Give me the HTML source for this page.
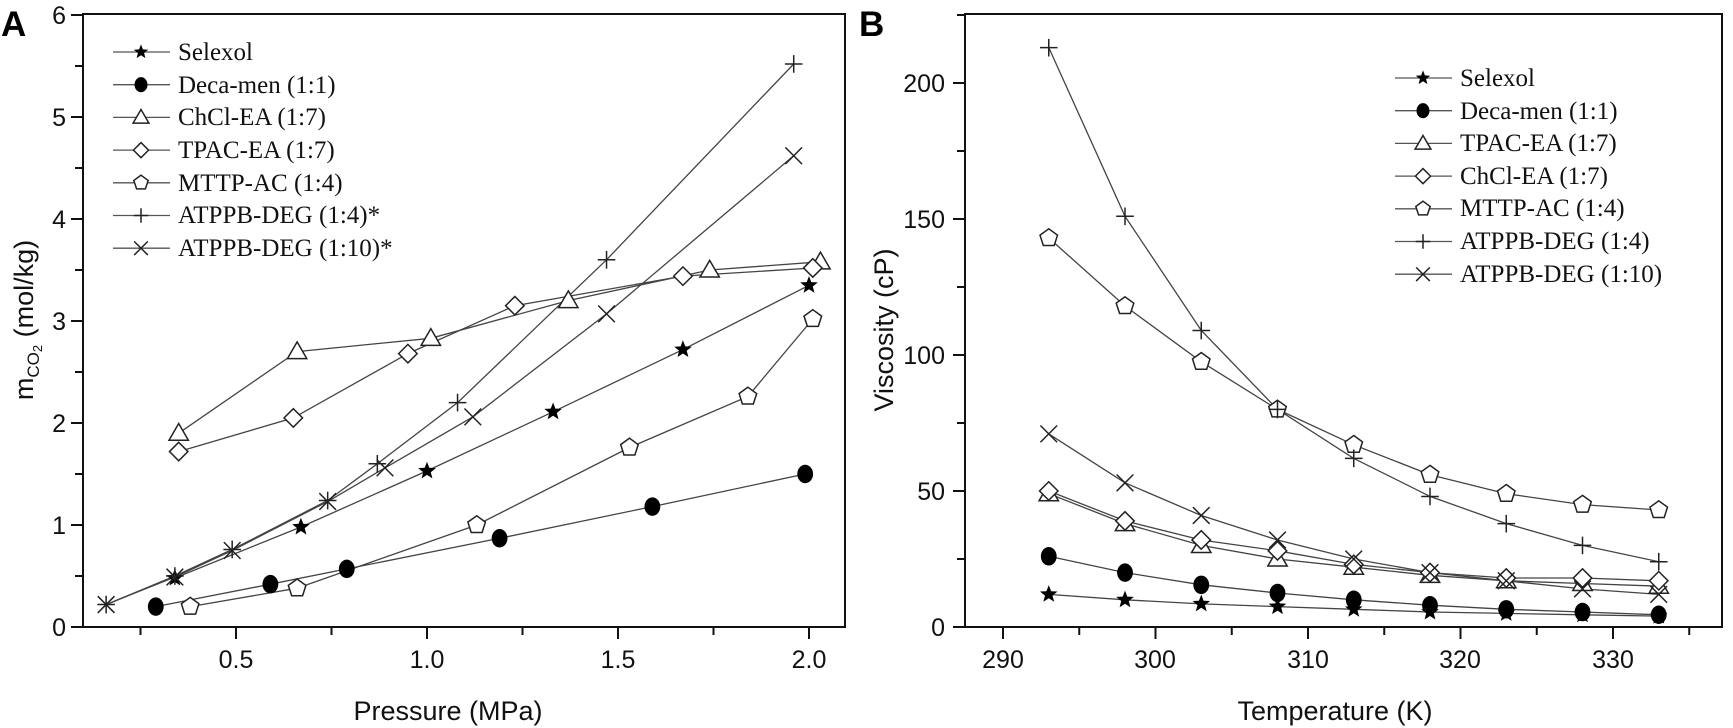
<!DOCTYPE html>
<html><head><meta charset="utf-8"><style>
body{margin:0;background:#fff;}
svg{display:block;}
.t{font-family:"Liberation Sans",Arial,sans-serif;font-size:25px;fill:#111;}
.lg{font-family:"Liberation Serif","Times New Roman",serif;font-size:25px;fill:#111;}
.ti{font-family:"Liberation Sans",Arial,sans-serif;font-size:27px;fill:#111;}
</style></head><body>
<svg id="s" width="1733" height="728" viewBox="0 0 1733 728" xmlns="http://www.w3.org/2000/svg">
<rect width="1733" height="728" fill="#fff"/>
<text x="1" y="36" style="font-family:'Liberation Sans',Arial,sans-serif;font-weight:bold;font-size:35px">A</text>
<text x="859" y="36" style="font-family:'Liberation Sans',Arial,sans-serif;font-weight:bold;font-size:35px">B</text>
<g id="axes" stroke="#111" stroke-width="2" fill="none">
<rect x="83" y="14" width="762" height="613"/>
<rect x="965" y="14" width="757" height="613"/>
</g>
<g id="ticks" stroke="#111" stroke-width="2"></g>
<g class="t" text-anchor="end">
<text x="66" y="636">0</text><text x="66" y="534">1</text><text x="66" y="432">2</text>
<text x="66" y="330">3</text><text x="66" y="228">4</text><text x="66" y="126">5</text><text x="66" y="24">6</text>
<text x="945" y="636">0</text><text x="945" y="500">50</text><text x="945" y="364">100</text>
<text x="945" y="228">150</text><text x="945" y="92">200</text>
</g>
<g class="t" text-anchor="middle">
<text x="236" y="668">0.5</text><text x="427" y="668">1.0</text><text x="618" y="668">1.5</text><text x="809" y="668">2.0</text>
<text x="1003" y="668">290</text><text x="1155" y="668">300</text><text x="1308" y="668">310</text><text x="1460" y="668">320</text><text x="1613" y="668">330</text>
</g>
<text class="ti" x="448" y="720" text-anchor="middle">Pressure (MPa)</text>
<text class="ti" x="1335" y="720" text-anchor="middle">Temperature (K)</text>
<text class="ti" transform="translate(33,320) rotate(-90)" text-anchor="middle">m<tspan font-size="17" dy="6">CO</tspan><tspan font-size="13" dy="3">2</tspan><tspan dy="-9"> (mol/kg)</tspan></text>
<text class="ti" transform="translate(893,330) rotate(-90)" text-anchor="middle">Viscosity (cP)</text>
<g id="data"></g>
<g class="lg">
<text x="178" y="60">Selexol</text><text x="178" y="93">Deca-men (1:1)</text><text x="178" y="125">ChCl-EA (1:7)</text>
<text x="178" y="158">TPAC-EA (1:7)</text><text x="178" y="191">MTTP-AC (1:4)</text><text x="178" y="223">ATPPB-DEG (1:4)*</text>
<text x="178" y="256">ATPPB-DEG (1:10)*</text>
<text x="1460" y="86">Selexol</text><text x="1460" y="119">Deca-men (1:1)</text><text x="1460" y="151">TPAC-EA (1:7)</text>
<text x="1460" y="184">ChCl-EA (1:7)</text><text x="1460" y="216">MTTP-AC (1:4)</text><text x="1460" y="249">ATPPB-DEG (1:4)</text>
<text x="1460" y="282">ATPPB-DEG (1:10)</text>
</g>
</svg>
<script>
var NS="http://www.w3.org/2000/svg";
function el(p,n,a){var e=document.createElementNS(NS,n);for(var k in a)e.setAttribute(k,a[k]);p.appendChild(e);return e;}
var T=document.getElementById('ticks'),D=document.getElementById('data');
for(var i=0;i<=12;i++){var y=627-i*51;el(T,'line',{x1:83,x2:i%2?75:71,y1:y,y2:y});}
for(var p=0.25;p<=2.1;p+=0.25){var x=236+(p-0.5)*382;el(T,'line',{x1:x,x2:x,y1:627,y2:Math.round(p*4)%2?635:639});}
for(var v=0;v<=225;v+=25){var y=627-v*2.72;el(T,'line',{x1:965,x2:v%50?957:953,y1:y,y2:y});}
for(var t=290;t<=335;t+=5){var x=1003+(t-290)*15.25;el(T,'line',{x1:x,x2:x,y1:627,y2:t%10?635:639});}
function marker(g,type,x,y,s){s=s||1.1;var r=8*s;
 if(type=='star'){var pts=[];for(var i=0;i<10;i++){var a=-Math.PI/2+i*Math.PI/5,rr=i%2?r*0.45:r*1.05;pts.push((x+rr*Math.cos(a)).toFixed(1)+','+(y+rr*Math.sin(a)).toFixed(1));}el(g,'polygon',{points:pts.join(' '),fill:'#000'});}
 else if(type=='circ'){el(g,'ellipse',{cx:x,cy:y,rx:r*0.9,ry:r*1.05,fill:'#000'});}
 else if(type=='tri'){el(g,'polygon',{points:(x-r*1.1)+','+(y+r*0.8)+' '+(x+r*1.1)+','+(y+r*0.8)+' '+x+','+(y-r*1.1),fill:'#fff',stroke:'#222','stroke-width':1.5});}
 else if(type=='dia'){el(g,'polygon',{points:(x-r*1.05)+','+y+' '+x+','+(y-r*1.05)+' '+(x+r*1.05)+','+y+' '+x+','+(y+r*1.05),fill:'#fff',stroke:'#222','stroke-width':1.5});}
 else if(type=='pent'){var pts=[];for(var i=0;i<5;i++){var a=-Math.PI/2+i*2*Math.PI/5;pts.push((x+r*1.05*Math.cos(a)).toFixed(1)+','+(y+r*1.05*Math.sin(a)).toFixed(1));}el(g,'polygon',{points:pts.join(' '),fill:'#fff',stroke:'#222','stroke-width':1.5});}
 else if(type=='plus'){el(g,'path',{d:'M'+(x-r)+' '+y+'H'+(x+r)+'M'+x+' '+(y-r)+'V'+(y+r),stroke:'#222','stroke-width':1.5,fill:'none'});}
 else if(type=='x'){var q=r*0.95;el(g,'path',{d:'M'+(x-q)+' '+(y-q)+'L'+(x+q)+' '+(y+q)+'M'+(x-q)+' '+(y+q)+'L'+(x+q)+' '+(y-q),stroke:'#222','stroke-width':1.5,fill:'none'});}
}
function series(pts){var d='';pts.forEach(function(p,i){d+=(i?'L':'M')+p[0].toFixed(1)+' '+p[1].toFixed(1);});
 el(D,'path',{d:d,stroke:'#444','stroke-width':1.3,fill:'none'});}
var A=[
['star',[[0.34,0.48],[0.67,0.98],[1.0,1.53],[1.33,2.11],[1.67,2.72],[2.0,3.35]]],
['circ',[[0.29,0.2],[0.59,0.42],[0.79,0.57],[1.19,0.87],[1.59,1.18],[1.99,1.5]]],
['tri',[[0.35,1.9],[0.66,2.7],[1.01,2.83],[1.37,3.2],[1.74,3.5],[2.03,3.58]]],
['dia',[[0.35,1.72],[0.65,2.05],[0.95,2.68],[1.23,3.15],[1.67,3.44],[2.01,3.52]]],
['pent',[[0.38,0.2],[0.66,0.38],[1.13,1.0],[1.53,1.76],[1.84,2.26],[2.01,3.02]]],
['plus',[[0.16,0.22],[0.34,0.5],[0.49,0.76],[0.74,1.24],[0.87,1.6],[1.08,2.2],[1.47,3.6],[1.96,5.52]]],
['x',[[0.16,0.22],[0.34,0.49],[0.49,0.75],[0.74,1.23],[0.89,1.56],[1.12,2.06],[1.47,3.07],[1.96,4.62]]]];
var ALL=[];
A.forEach(function(s){var pts=s[1].map(function(p){return [236+(p[0]-0.5)*382,627-p[1]*102];});ALL.push([s[0],pts]);});
var Ts=[293,298,303,308,313,318,323,328,333];
var B=[
['star',[12,10,8.5,7.5,6.5,5.5,5,4.5,4]],
['circ',[26,20,15.5,12.5,10,8,6.5,5.5,4.5]],
['tri',[49,38,30,25,22,19,17,16,15]],
['dia',[50,39,32,28,23,20,18,18,17]],
['pent',[143,118,97.5,80,67,56,49,45,43]],
['plus',[213,151,109,80,62,48,38,30,24]],
['x',[71,53,41,32,25,20,17,14,12]]];
B.forEach(function(s){var pts=s[1].map(function(v,i){return [1003+(Ts[i]-290)*15.25,627-v*2.72];});ALL.push([s[0],pts]);});
ALL.forEach(function(s){series(s[1]);});
ALL.forEach(function(s){s[1].forEach(function(p){marker(D,s[0],p[0],p[1]);});});
var L=['star','circ','tri','dia','pent','plus','x'];
L.forEach(function(t,i){var y=52+i*32.7;el(D,'line',{x1:113,x2:170,y1:y,y2:y,stroke:'#555','stroke-width':1.3});marker(D,t,141,y,0.9);});
L.forEach(function(t,i){var y=78+i*32.7;el(D,'line',{x1:1395,x2:1452,y1:y,y2:y,stroke:'#555','stroke-width':1.3});marker(D,t,1423,y,0.9);});
</script>
</body></html>
